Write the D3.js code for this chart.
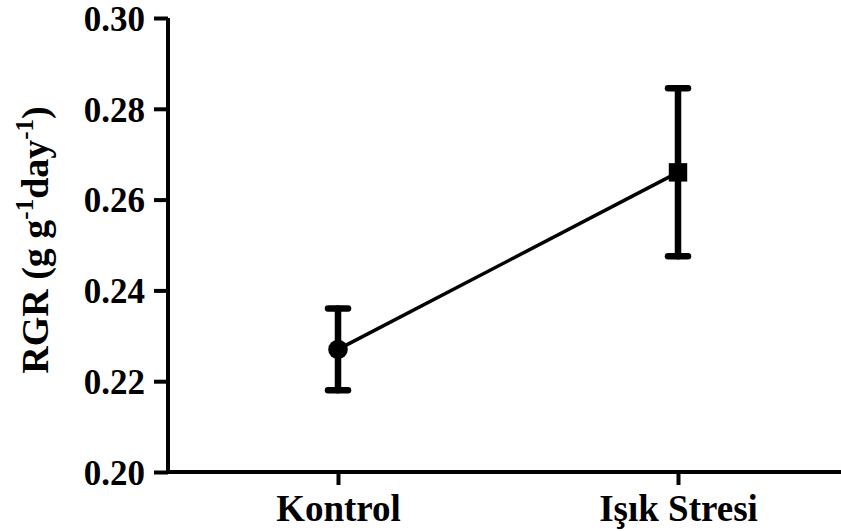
<!DOCTYPE html>
<html>
<head>
<meta charset="utf-8">
<script src="https://cdn.jsdelivr.net/npm/d3@7/dist/d3.min.js"></script>
<style>
  html, body { margin: 0; padding: 0; background: #fff; }
  svg { display: block; }
  text { font-family: "Liberation Serif", "Times New Roman", serif; font-weight: bold; fill: #000; }
</style>
</head>
<body>
<svg id="chart" width="841" height="531"></svg>
<script>
// Relative growth rate by treatment: mean and error (±)
const categories = ["Kontrol", "Işık Stresi"];
const means = [0.227, 0.266];
const errors = [0.009, 0.0185];
const markers = ["circle", "square"];
const yTicks = [0.20, 0.22, 0.24, 0.26, 0.28, 0.30];

const svg = d3.select("#chart");
const plotLeft = 168, plotTop = 18, plotBottom = 472, plotRight = 848;

const x = d3.scalePoint().domain(categories).range([plotLeft, plotRight]).padding(0.5);
const y = d3.scaleLinear().domain([0.20, 0.30]).range([plotBottom, plotTop]);

// Y axis
const yAxis = svg.append("g")
  .attr("transform", `translate(${plotLeft},0)`)
  .call(d3.axisLeft(y).tickValues(yTicks).tickFormat(d3.format(".2f")).tickSize(14).tickPadding(9));
yAxis.select(".domain").attr("stroke", "#000").attr("stroke-width", 4)
  .attr("d", `M0,${plotTop}V${plotBottom}`);
yAxis.selectAll(".tick line").attr("stroke", "#000").attr("stroke-width", 4);
yAxis.selectAll(".tick text").attr("font-size", 35).attr("dy", "0.35em");

// X axis
const xAxis = svg.append("g")
  .attr("transform", `translate(0,${plotBottom})`)
  .call(d3.axisBottom(x).tickSize(13).tickPadding(10));
xAxis.select(".domain").attr("stroke", "#000").attr("stroke-width", 4)
  .attr("d", `M${plotLeft - 2},0H${plotRight}`);
xAxis.selectAll(".tick line").attr("stroke", "#000").attr("stroke-width", 4);
xAxis.selectAll(".tick text").attr("font-size", 37).attr("dy", "0.71em");

// Y axis title with superscripts
const title = svg.append("text")
  .attr("transform", `translate(48,240) rotate(-90)`)
  .attr("text-anchor", "middle")
  .attr("font-size", 38);
title.append("tspan").text("RGR (g g");
title.append("tspan").attr("font-size", 25).attr("dy", -15).text("-1");
title.append("tspan").attr("dy", 15).text("day");
title.append("tspan").attr("font-size", 25).attr("dy", -15).text("-1");
title.append("tspan").attr("dy", 15).text(")");

// Connecting line between means
const line = d3.line().x((d, i) => x(categories[i])).y(d => y(d));
svg.append("path")
  .datum(means)
  .attr("d", line)
  .attr("fill", "none")
  .attr("stroke", "#000")
  .attr("stroke-width", 3.5);

// Error bars
const bars = svg.append("g").selectAll("g")
  .data(categories)
  .join("g")
  .attr("stroke", "#000")
  .attr("stroke-width", 6.5)
  .attr("stroke-linecap", "round");
bars.append("line")
  .attr("x1", d => x(d)).attr("x2", d => x(d))
  .attr("y1", (d, i) => y(means[i] + errors[i]))
  .attr("y2", (d, i) => y(means[i] - errors[i]));
bars.append("line")
  .attr("x1", d => x(d) - 10).attr("x2", d => x(d) + 10)
  .attr("y1", (d, i) => y(means[i] + errors[i]))
  .attr("y2", (d, i) => y(means[i] + errors[i]));
bars.append("line")
  .attr("x1", d => x(d) - 10).attr("x2", d => x(d) + 10)
  .attr("y1", (d, i) => y(means[i] - errors[i]))
  .attr("y2", (d, i) => y(means[i] - errors[i]));

// Mean markers
const sym = { circle: d3.symbolCircle, square: d3.symbolSquare };
svg.append("g").selectAll("path")
  .data(categories)
  .join("path")
  .attr("transform", (d, i) => `translate(${x(d)},${y(means[i])})`)
  .attr("d", (d, i) => d3.symbol(sym[markers[i]], markers[i] === "circle" ? 300 : 340)())
  .attr("fill", "#000");
</script>
</body>
</html>
